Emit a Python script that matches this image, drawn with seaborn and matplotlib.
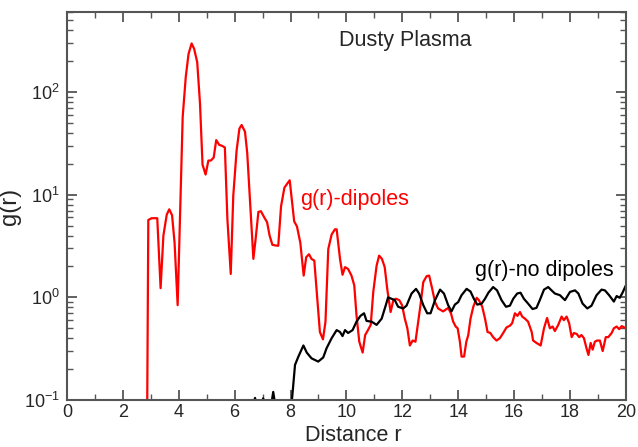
import pandas as pd
import matplotlib
matplotlib.use("Agg")
import matplotlib.pyplot as plt
import seaborn as sns
from matplotlib.ticker import MultipleLocator, LogLocator

# g(r) with dipoles (red)
r_dip = [2.85, 2.91, 3.03, 3.23, 3.35, 3.45, 3.57, 3.66, 3.76, 3.85, 3.96,
         4.14, 4.25, 4.35, 4.46, 4.55, 4.66, 4.76, 4.85, 4.96, 5.06, 5.15,
         5.25, 5.34, 5.45, 5.55, 5.65, 5.74, 5.86, 5.95, 6.07, 6.17, 6.25,
         6.37, 6.45, 6.67, 6.75, 6.85, 6.94, 7.06, 7.16, 7.25, 7.35, 7.47,
         7.56, 7.66, 7.78, 7.88, 7.97, 8.13, 8.23, 8.35, 8.47, 8.56, 8.66,
         8.75, 8.85, 8.93, 9.05, 9.16, 9.25, 9.35, 9.47, 9.59, 9.65, 9.77,
         9.86, 9.95, 10.06, 10.18, 10.28, 10.36, 10.46, 10.58, 10.67, 10.77,
         10.87, 10.96, 11.08, 11.17, 11.27, 11.37, 11.46, 11.58, 11.68, 11.77,
         11.89, 11.99, 12.09, 12.18, 12.27, 12.37, 12.47, 12.57, 12.65, 12.75,
         12.87, 12.96, 13.07, 13.17, 13.28, 13.46, 13.64, 13.74, 13.82, 13.91,
         13.98, 14.06, 14.12, 14.21, 14.29, 14.36, 14.44, 14.54, 14.66, 14.74,
         14.86, 14.96, 15.05, 15.15, 15.25, 15.37, 15.49, 15.61, 15.73, 15.85,
         15.93, 16.03, 16.12, 16.21, 16.29, 16.39, 16.5, 16.63, 16.68, 16.8,
         16.95, 17.07, 17.18, 17.28, 17.38, 17.46, 17.58, 17.7, 17.78, 17.88,
         17.97, 18.06, 18.14, 18.24, 18.33, 18.41, 18.5, 18.59, 18.66, 18.74,
         18.81, 18.89, 18.97, 19.07, 19.17, 19.28, 19.37, 19.49, 19.57, 19.67,
         19.76, 19.85, 20.0]
g_dip = [0.01, 5.67, 5.9, 5.9, 1.23, 4.0, 6.4, 7.2, 6.3, 3.4, 0.84,
         57, 140, 235, 297, 263, 195, 77, 19.6, 15.7, 21.5, 21.5,
         23, 34, 30.5, 29.9, 28.8, 5.8, 1.69, 9.7, 27, 44, 47.7,
         41, 25.5, 2.37, 3.7, 6.8, 6.9, 6.0, 5.4, 4.0, 3.25, 3.2,
         3.18, 7.7, 11.7, 12.8, 13.8, 5.5, 4.9, 3.4, 1.63, 2.46, 2.63,
         2.37, 2.28, 1.21, 0.46, 0.39, 0.58, 2.95, 4.1, 4.6, 4.6, 2.37,
         1.66, 1.97, 1.89, 1.63, 1.31, 0.67, 0.37, 0.29, 0.43, 0.48,
         0.54, 1.13, 2.04, 2.55, 2.37, 1.97, 1.21, 0.72, 0.94, 0.97,
         0.94, 0.84, 0.62, 0.50, 0.34, 0.38, 0.37, 0.58, 0.84, 1.41,
         1.61, 1.63, 1.21, 0.90, 0.78, 0.73, 0.79, 0.70, 0.58, 0.52,
         0.50, 0.37, 0.265, 0.265, 0.37, 0.43, 0.62, 0.81, 0.99, 0.94,
         0.81, 0.62, 0.46, 0.45, 0.41, 0.38, 0.40, 0.45, 0.51, 0.53,
         0.56, 0.70, 0.66, 0.72, 0.65, 0.62, 0.58, 0.46, 0.38, 0.36,
         0.34, 0.50, 0.63, 0.50, 0.52, 0.47, 0.54, 0.65, 0.60, 0.65,
         0.56, 0.41, 0.45, 0.44, 0.41, 0.43, 0.40, 0.32, 0.275, 0.36,
         0.31, 0.37, 0.38, 0.38, 0.30, 0.41, 0.41, 0.45, 0.50, 0.52,
         0.49, 0.525, 0.50]

# g(r) without dipoles (black)
r_nodip = [6.6, 6.73, 6.8, 6.95, 7.02, 7.1, 7.28, 7.38, 7.48, 7.95, 8.05,
           8.16, 8.28, 8.46, 8.58, 8.75, 8.99, 9.17, 9.29, 9.47, 9.65, 9.77,
           9.86, 9.95, 10.06, 10.22, 10.36, 10.5, 10.63, 10.72, 10.9, 11.08,
           11.26, 11.41, 11.49, 11.61, 11.73, 11.85, 12.03, 12.15, 12.33,
           12.49, 12.6, 12.75, 12.89, 13.01, 13.17, 13.35, 13.49, 13.64,
           13.76, 13.88, 14.0, 14.12, 14.3, 14.44, 14.56, 14.68, 14.84,
           14.96, 15.08, 15.25, 15.39, 15.55, 15.71, 15.85, 15.97, 16.11,
           16.23, 16.35, 16.5, 16.66, 16.8, 16.92, 17.07, 17.22, 17.34,
           17.46, 17.64, 17.82, 18.0, 18.18, 18.3, 18.45, 18.62, 18.77,
           18.95, 19.13, 19.25, 19.4, 19.57, 19.67, 19.78, 19.88, 20.0]
g_nodip = [0.08, 0.105, 0.08, 0.08, 0.104, 0.08, 0.08, 0.12, 0.08, 0.08, 0.1,
           0.22, 0.265, 0.34, 0.29, 0.255, 0.237, 0.26, 0.32, 0.40, 0.48, 0.46,
           0.42, 0.48, 0.45, 0.48, 0.58, 0.66, 0.70, 0.59, 0.58, 0.54,
           0.62, 0.84, 1.0, 0.97, 0.94, 0.81, 0.78, 0.83, 1.09,
           1.21, 1.09, 0.84, 0.70, 0.70, 0.94, 1.19, 1.09, 0.84,
           0.73, 0.85, 0.90, 1.05, 1.21, 1.14, 0.97, 0.85, 0.87,
           0.97, 1.11, 1.26, 1.17, 0.94, 0.81, 0.83, 0.97, 1.09,
           1.11, 0.97, 0.87, 0.77, 0.79, 0.94, 1.19, 1.26, 1.17,
           1.09, 1.05, 0.94, 1.13, 1.17, 1.09, 0.87, 0.78, 0.83,
           1.05, 1.19, 1.17, 1.05, 0.91, 1.03, 0.99, 1.11, 1.31]

df_dip = pd.DataFrame({"r": r_dip, "g": g_dip})
df_nodip = pd.DataFrame({"r": r_nodip, "g": g_nodip})

sns.set_style("ticks")
plt.rcParams['font.family'] = ['Liberation Sans', 'DejaVu Sans']
edge = "#555555"

fig = plt.figure(figsize=(6.38, 4.47), dpi=100)
ax = fig.add_axes([0.105, 0.105, 0.876, 0.868])

sns.lineplot(x="r", y="g", data=df_dip, color="#ff0000", linewidth=1.6,
             estimator=None, sort=False, ax=ax)
sns.lineplot(x="r", y="g", data=df_nodip, color="black", linewidth=1.6,
             estimator=None, sort=False, ax=ax)

ax.set_yscale("log")
ax.set_xlim(0, 20)
ax.set_ylim(0.1, 600)
ax.xaxis.set_major_locator(MultipleLocator(2))
ax.xaxis.set_minor_locator(MultipleLocator(1))
ax.yaxis.set_major_locator(LogLocator(base=10, numticks=10))
ax.yaxis.set_minor_locator(LogLocator(base=10, subs=range(2, 10), numticks=10))

ax.tick_params(which="both", direction="in", top=True, right=True,
               color=edge, labelsize=13)
ax.tick_params(axis="x", pad=3)
ax.tick_params(axis="y", pad=5)
ax.tick_params(which="major", length=7, width=1.3)
ax.tick_params(which="minor", length=4, width=1.0)
for s in ax.spines.values():
    s.set_color(edge)
    s.set_linewidth(1.5)

ax.set_xlabel("Distance r", fontsize=15.5, va="bottom")
ax.xaxis.set_label_coords(0.513, -0.118)
ax.set_ylabel("g(r)", fontsize=17, labelpad=2)

ax.text(12.1, 316, "Dusty Plasma", fontsize=15.5, ha="center", va="center")
ax.text(8.34, 9.0, "g(r)-dipoles", fontsize=15.5, color="#ff0000", va="center")
ax.text(14.6, 1.81, "g(r)-no dipoles", fontsize=15.5, color="black", va="center")

fig.savefig("out.png", dpi=100)
